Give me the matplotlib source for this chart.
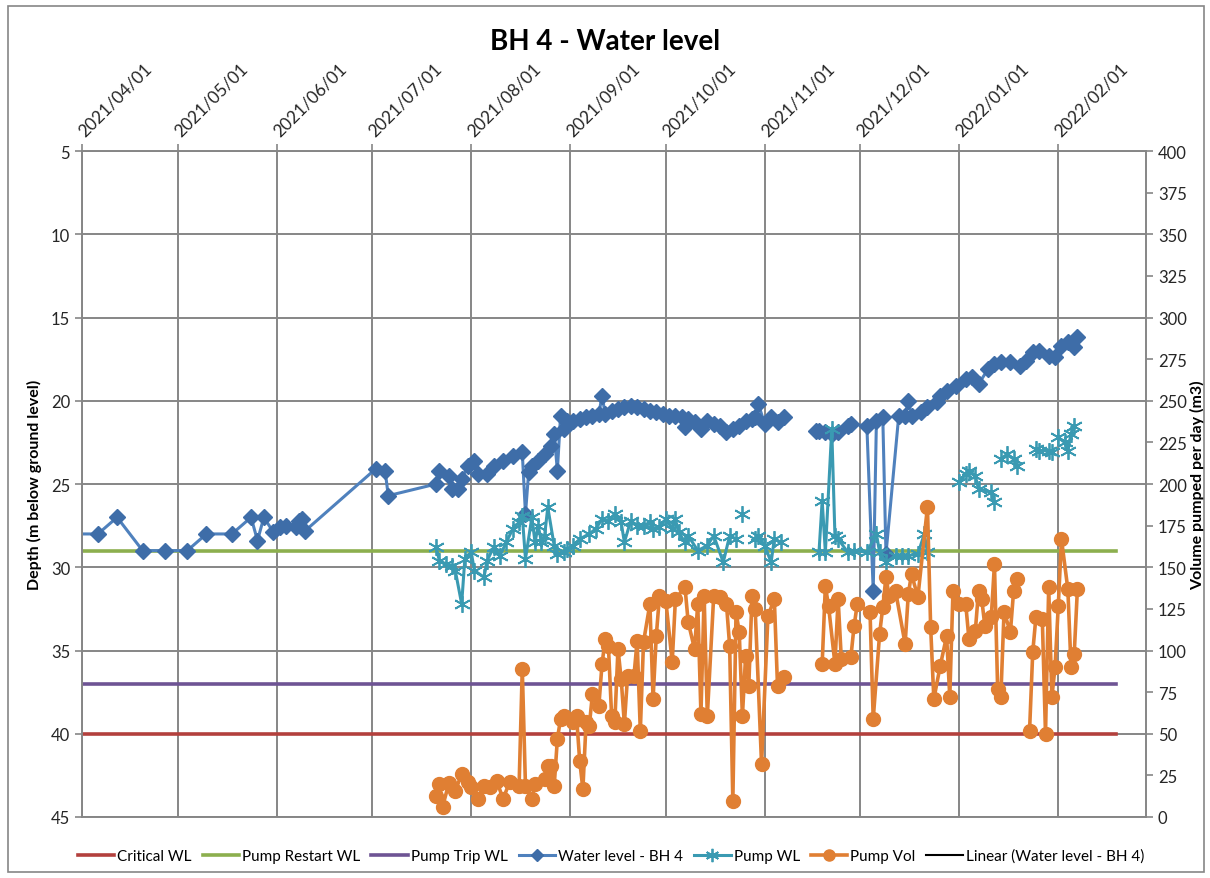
import numpy as np
import pandas as pd
import matplotlib
matplotlib.use('Agg')
import matplotlib.pyplot as plt
import matplotlib.dates as mdates
import matplotlib.transforms as mtransforms
from matplotlib.lines import Line2D
from matplotlib.patches import Rectangle

plt.rcParams['font.family'] = ['Lato', 'DejaVu Sans']

# threshold levels (m below ground)
limit_dates = ['2021-03-29', '2022-02-19']
critical_wl = [40, 40]
restart_wl = [29, 29]
trip_wl = [37, 37]

# water level - BH 4 (m below ground level)
wl_dates = ['2021-03-29', '2021-04-06', '2021-04-12', '2021-04-20', '2021-04-27', '2021-05-04',
            '2021-05-10', '2021-05-18', '2021-05-24', '2021-05-26', '2021-05-28', '2021-05-31',
            '2021-06-02', '2021-06-04', '2021-06-07', '2021-06-08', '2021-06-09', '2021-06-10',
            '2021-07-02', '2021-07-05', '2021-07-06', '2021-07-21', '2021-07-22', '2021-07-25',
            '2021-07-26', '2021-07-28', '2021-07-29', '2021-07-31', '2021-08-02', '2021-08-03',
            '2021-08-06', '2021-08-08', '2021-08-11', '2021-08-14', '2021-08-17', '2021-08-18',
            '2021-08-19', '2021-08-20', '2021-08-22', '2021-08-24', '2021-08-26', '2021-08-27',
            '2021-08-28', '2021-08-29', '2021-08-30', '2021-08-31', '2021-09-02', '2021-09-04',
            '2021-09-06', '2021-09-08', '2021-09-10', '2021-09-11', '2021-09-12', '2021-09-14',
            '2021-09-16', '2021-09-18', '2021-09-20', '2021-09-22', '2021-09-24', '2021-09-26',
            '2021-09-28', '2021-09-30', '2021-10-02', '2021-10-04', '2021-10-06', '2021-10-07',
            '2021-10-08', '2021-10-10', '2021-10-12', '2021-10-14', '2021-10-16', '2021-10-18',
            '2021-10-20', '2021-10-22', '2021-10-24', '2021-10-26', '2021-10-28', '2021-10-29',
            '2021-10-30', '2021-11-01', '2021-11-03', '2021-11-05', '2021-11-07', '2021-11-12',
            '2021-11-17', '2021-11-18', '2021-11-20', '2021-11-22', '2021-11-24', '2021-11-27',
            '2021-11-28', '2021-12-03', '2021-12-05', '2021-12-06', '2021-12-08', '2021-12-09',
            '2021-12-13', '2021-12-15', '2021-12-16', '2021-12-17', '2021-12-20', '2021-12-22',
            '2021-12-25', '2021-12-26', '2021-12-28', '2021-12-31', '2022-01-03', '2022-01-05',
            '2022-01-07', '2022-01-10', '2022-01-12', '2022-01-14', '2022-01-17', '2022-01-20',
            '2022-01-22', '2022-01-24', '2022-01-26', '2022-01-29', '2022-01-31', '2022-02-02',
            '2022-02-04', '2022-02-06', '2022-02-07']
wl_depth = [28.0, 28.0, 27.0, 29.0, 29.0, 29.0,
            28.0, 28.0, 27.0, 28.4, 27.0, 27.9,
            27.6, 27.5, 27.6, 27.2, 27.1, 27.8,
            24.1, 24.2, 25.7, 25.0, 24.2, 24.5,
            25.3, 25.3, 24.7, 23.9, 23.6, 24.4,
            24.4, 23.9, 23.6, 23.3, 23.1, 26.8,
            24.3, 23.9, 23.6, 23.2, 22.7, 22.0,
            24.2, 20.9, 21.7, 21.2, 21.2, 21.1,
            21.0, 20.9, 20.8, 19.7, 20.8, 20.6,
            20.5, 20.4, 20.3, 20.4, 20.5, 20.6,
            20.7, 20.8, 20.9, 20.9, 21.0, 21.6,
            21.1, 21.3, 21.7, 21.2, 21.4, 21.5,
            21.9, 21.7, 21.5, 21.2, 21.1, 21.0,
            20.2, 21.4, 21.0, 21.3, 21.0, None,
            21.8, 21.8, 21.9, 22.0, 21.9, 21.5,
            21.4, 21.5, 31.4, 21.2, 21.0, 29.2,
            20.9, 20.9, 20.0, 20.9, 20.7, 20.4,
            20.1, 19.7, 19.4, 19.1, 18.7, 18.6,
            19.0, 18.1, 17.8, 17.7, 17.7, 17.9,
            17.6, 17.1, 17.0, 17.3, 17.4, 16.7,
            16.5, 16.8, 16.2]

# pump water level (m below ground level)
pwl_dates = ['2021-07-21', '2021-07-22', '2021-07-24', '2021-07-26', '2021-07-27', '2021-07-29',
             '2021-07-30', '2021-08-01', '2021-08-02', '2021-08-05', '2021-08-06', '2021-08-08',
             '2021-08-10', '2021-08-12', '2021-08-14', '2021-08-16', '2021-08-17', '2021-08-18',
             '2021-08-20', '2021-08-21', '2021-08-22', '2021-08-23', '2021-08-24', '2021-08-25',
             '2021-08-27', '2021-08-28', '2021-08-30', '2021-08-31', '2021-09-02', '2021-09-04',
             '2021-09-07', '2021-09-09', '2021-09-11', '2021-09-13', '2021-09-15', '2021-09-17',
             '2021-09-18', '2021-09-20', '2021-09-22', '2021-09-24', '2021-09-26', '2021-09-27',
             '2021-09-29', '2021-10-01', '2021-10-03', '2021-10-04', '2021-10-05', '2021-10-07',
             '2021-10-08', '2021-10-11', '2021-10-14', '2021-10-16', '2021-10-19', '2021-10-21',
             '2021-10-23', '2021-10-24', '2021-10-25', '2021-10-27', '2021-10-29', '2021-10-30',
             '2021-11-01', '2021-11-03', '2021-11-04', '2021-11-06', '2021-11-12', '2021-11-18',
             '2021-11-19', '2021-11-20', '2021-11-22', '2021-11-23', '2021-11-24', '2021-11-27',
             '2021-11-29', '2021-12-03', '2021-12-06', '2021-12-07', '2021-12-09', '2021-12-12',
             '2021-12-14', '2021-12-16', '2021-12-19', '2021-12-21', '2021-12-22', '2021-12-27',
             '2022-01-01', '2022-01-03', '2022-01-04', '2022-01-06', '2022-01-07', '2022-01-11',
             '2022-01-12', '2022-01-13', '2022-01-14', '2022-01-16', '2022-01-18', '2022-01-19',
             '2022-01-22', '2022-01-25', '2022-01-26', '2022-01-29', '2022-01-30', '2022-01-31',
             '2022-02-01', '2022-02-03', '2022-02-04', '2022-02-05', '2022-02-06']
pwl_depth = [28.8, 29.6, 29.8, 29.9, 30.2, 32.2,
             29.5, 29.1, 30.2, 30.6, 29.6, 28.8,
             29.3, 28.5, 27.7, 27.3, 26.9, 29.5,
             27.0, 28.5, 27.5, 28.5, 28.1, 26.4,
             28.7, 29.2, 29.1, 28.9, 28.7, 28.3,
             28.0, 27.7, 27.1, 27.2, 26.8, 27.3,
             28.5, 27.2, 27.5, 27.5, 27.3, 27.7,
             27.6, 27.1, 27.7, 27.1, 27.9, 28.5,
             28.1, 29.0, 28.7, 28.1, 29.7, 28.1,
             28.3, None, 26.8, None, 28.3, 28.1,
             28.7, 29.7, 28.3, 28.5, None, 29.1,
             26.0, 29.1, 21.7, 28.1, 28.3, 29.1,
             29.0, 29.1, 28.0, 29.1, 29.7, 29.3,
             29.3, 29.3, 29.2, 28.0, 29.1, None,
             24.9, 24.4, 24.2, 24.5, 25.3, 25.5,
             26.1, None, 23.5, 23.2, 23.5, 23.9,
             None, 22.9, 23.0, 23.0, 23.1, None,
             22.2, 22.5, 23.0, 22.0, 21.5]

# pumped volume per day (m3)
vol_dates = ['2021-07-21', '2021-07-22', '2021-07-23', '2021-07-25', '2021-07-27', '2021-07-29',
             '2021-07-31', '2021-08-01', '2021-08-03', '2021-08-05', '2021-08-07', '2021-08-09',
             '2021-08-11', '2021-08-13', '2021-08-16', '2021-08-17', '2021-08-18', '2021-08-20',
             '2021-08-21', '2021-08-24', '2021-08-25', '2021-08-26', '2021-08-27', '2021-08-28',
             '2021-08-29', '2021-08-30', '2021-09-02', '2021-09-03', '2021-09-04', '2021-09-05',
             '2021-09-06', '2021-09-07', '2021-09-08', '2021-09-10', '2021-09-11', '2021-09-12',
             '2021-09-13', '2021-09-14', '2021-09-15', '2021-09-16', '2021-09-17', '2021-09-18',
             '2021-09-19', '2021-09-21', '2021-09-22', '2021-09-23', '2021-09-24', '2021-09-26',
             '2021-09-27', '2021-09-28', '2021-09-29', '2021-10-01', '2021-10-03', '2021-10-04',
             '2021-10-07', '2021-10-08', '2021-10-10', '2021-10-11', '2021-10-12', '2021-10-13',
             '2021-10-14', '2021-10-16', '2021-10-18', '2021-10-20', '2021-10-21', '2021-10-22',
             '2021-10-23', '2021-10-24', '2021-10-25', '2021-10-26', '2021-10-27', '2021-10-28',
             '2021-10-29', '2021-10-31', '2021-11-02', '2021-11-04', '2021-11-05', '2021-11-07',
             '2021-11-12', '2021-11-19', '2021-11-20', '2021-11-21', '2021-11-23', '2021-11-24',
             '2021-11-25', '2021-11-28', '2021-11-29', '2021-11-30', '2021-12-04', '2021-12-05',
             '2021-12-07', '2021-12-08', '2021-12-09', '2021-12-10', '2021-12-12', '2021-12-15',
             '2021-12-16', '2021-12-17', '2021-12-19', '2021-12-22', '2021-12-23', '2021-12-24',
             '2021-12-26', '2021-12-28', '2021-12-29', '2021-12-30', '2022-01-01', '2022-01-03',
             '2022-01-04', '2022-01-06', '2022-01-07', '2022-01-08', '2022-01-09', '2022-01-11',
             '2022-01-12', '2022-01-13', '2022-01-14', '2022-01-15', '2022-01-17', '2022-01-18',
             '2022-01-19', '2022-01-21', '2022-01-23', '2022-01-24', '2022-01-25', '2022-01-27',
             '2022-01-28', '2022-01-29', '2022-01-30', '2022-01-31', '2022-02-01', '2022-02-02',
             '2022-02-04', '2022-02-05', '2022-02-06', '2022-02-07']
vol_m3 = [12.6, 19.8, 6.0, 20.4, 15.6, 25.8,
          21.0, 18.0, 10.8, 18.6, 18.0, 21.6,
          10.8, 21.0, 18.6, 88.9, 18.6, 10.8,
          19.8, 22.8, 30.6, 30.6, 18.6, 46.8,
          58.9, 60.7, 57.0, 60.7, 33.6, 16.8,
          57.0, 54.7, 73.9, 66.7, 91.9, 106.9,
          102.7, 60.7, 57.0, 100.9, 82.9, 55.9,
          84.7, 84.7, 105.7, 51.7, 105.1, 127.9,
          70.9, 108.7, 132.7, 129.7, 93.1, 130.9,
          138.1, 117.1, 100.9, 127.9, 61.9, 132.7,
          60.7, 132.7, 132.1, 127.9, 102.7, 9.6,
          123.1, 111.1, 60.7, 96.7, 78.7, 132.7,
          124.9, 31.8, 120.7, 130.9, 78.7, 84.1,
          None, 91.9, 138.7, 126.7, 91.9, 130.9,
          94.9, 96.1, 114.7, 127.9, 123.1, 58.9,
          109.9, 126.1, 144.1, 132.7, 135.7, 103.9,
          133.9, 145.9, 132.1, 186.2, 114.1, 70.9,
          90.7, 108.7, 72.1, 135.7, 127.9, 127.9,
          106.9, 111.7, 135.7, 130.9, 114.7, 120.1,
          151.9, 76.9, 72.1, 123.1, 111.1, 135.7,
          142.9, None, 51.7, 99.1, 120.1, 118.9,
          49.8, 138.1, 72.1, 90.1, 126.7, 166.9,
          136.9, 90.1, 97.9, 136.9]

fig = plt.figure(figsize=(12.1, 8.79), dpi=100)
ax = fig.add_axes([82/1210, 1-818/879, (1146-82)/1210, (818-152)/879])
ax2 = ax.twinx()

grey = '#868686'
lim_x = pd.to_datetime(limit_dates)
ax.plot(lim_x, critical_wl, color='#B3403D', lw=2.6, label='Critical WL')
ax.plot(lim_x, restart_wl, color='#8CAF4E', lw=2.6, label='Pump Restart WL')
ax.plot(lim_x, trip_wl, color='#6E5494', lw=2.6, label='Pump Trip WL')
ax.plot(pd.to_datetime(wl_dates), np.array(wl_depth, dtype=float), color='#4F81BD', lw=2.2,
        marker='D', ms=8, mfc='#3E6DA8', mec='#3E6DA8', label='Water level - BH 4')
ax.plot(pd.to_datetime(pwl_dates), np.array(pwl_depth, dtype=float), color='#3A9AB2', lw=2.2,
        marker=(6, 2, 0), ms=12, mew=1.3, mec='#3A9AB2', label='Pump WL')
ax2.plot(pd.to_datetime(vol_dates), np.array(vol_m3, dtype=float), color='#E07F33', lw=2.6,
         marker='o', ms=10, mfc='#E07F33', mec='#E07F33', label='Pump Vol')
trend = Line2D([], [], color='black', lw=1.5, label='Linear (Water level - BH 4)')

ax.set_ylim(45, 5)
ax.set_yticks(range(5, 50, 5))
ax2.set_ylim(0, 400)
ax2.set_yticks(range(0, 425, 25))
ax.set_xlim(pd.Timestamp('2021-04-01'), pd.Timestamp('2022-02-28 12:00'))
ax.set_xticks(pd.date_range('2021-04-01', '2022-02-01', freq='MS'))
ax.xaxis.set_major_formatter(mdates.DateFormatter('%Y/%m/%d'))
ax.xaxis.tick_top()

ax.grid(True, color=grey, lw=1.4)
ax.set_axisbelow(True)
for a in (ax, ax2):
    for s in a.spines.values():
        s.set_color(grey)
        s.set_linewidth(1.2)
    a.tick_params(colors=grey, labelcolor='#262626', labelsize=12, length=5, width=1.2)
ax.tick_params(axis='x', labelsize=12.5, pad=4)
shift = mtransforms.ScaledTranslation(5/100, 0, fig.dpi_scale_trans)
for lab in ax.get_xticklabels():
    lab.set_rotation(45)
    lab.set_ha('left')
    lab.set_va('bottom')
    lab.set_rotation_mode('anchor')
    lab.set_transform(lab.get_transform() + shift)

ax.set_ylabel('Depth (m below ground level)', fontsize=11.5, fontweight='bold')
ax.yaxis.set_label_coords(-0.038, 0.5)
ax2.set_ylabel('Volume pumped per day (m3)', fontsize=11.5, fontweight='bold')
ax2.yaxis.set_label_coords(1.041, 0.5)
fig.text(0.5, 1-42/879, 'BH 4 - Water level', fontsize=20, fontweight='bold',
         ha='center', va='center')

h1, l1 = ax.get_legend_handles_labels()
h2, l2 = ax2.get_legend_handles_labels()
fig.legend(h1 + h2 + [trend], l1 + l2 + [trend.get_label()], loc='center',
           bbox_to_anchor=(0.505, 1-857/879), ncol=7, frameon=False, fontsize=11,
           handlelength=2.4, handletextpad=0.2, columnspacing=0.7, markerscale=0.8)

fig.add_artist(Rectangle((8/1210, 6/879), 1196/1210, 866/879, transform=fig.transFigure,
                         fill=False, edgecolor=grey, lw=1.2))

fig.savefig('out.png', dpi=100)
